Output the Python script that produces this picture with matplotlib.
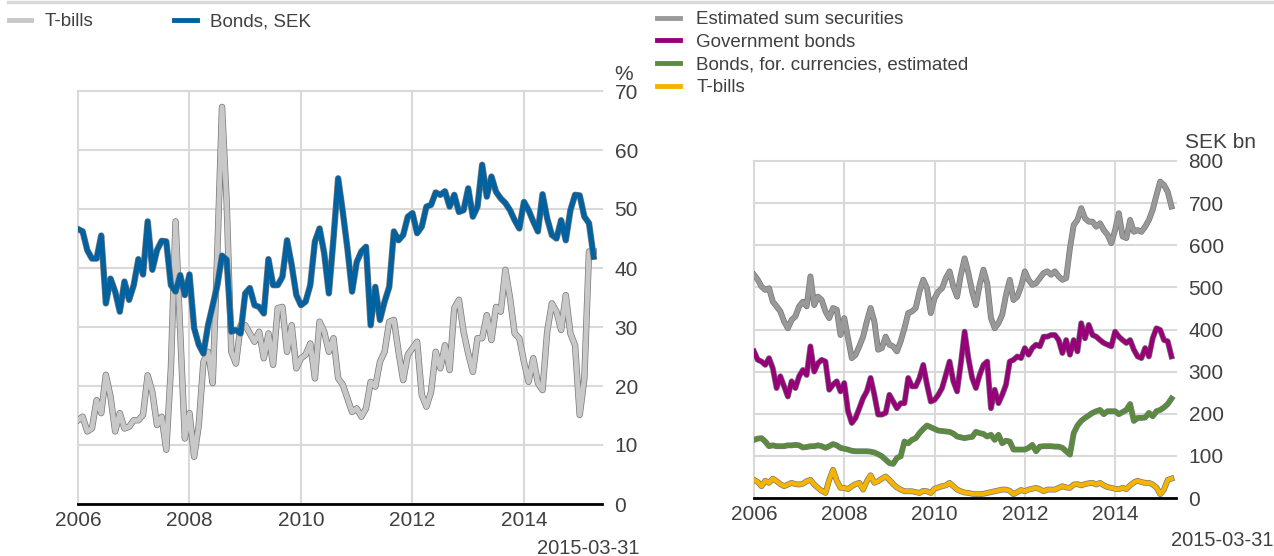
import matplotlib
matplotlib.use("Agg")
import matplotlib.pyplot as plt
import matplotlib.patheffects as pe
from matplotlib.lines import Line2D
import numpy as np

plt.rcParams['font.family'] = ['Liberation Sans', 'DejaVu Sans']

# month ends, Dec 2005 .. Mar 2015 (as decimal years)
months = 2006 + np.arange(112) / 12.0

# left chart, per cent
tbills_pct = [
    14.2, 14.8, 12.3, 12.8, 17.6, 15.4, 21.9, 18.2, 12.3, 15.4, 12.8, 13.1,
    14.2, 14.2, 15.1, 21.8, 19.0, 13.4, 14.8, 9.2, 23.0, 47.9, 29.2, 11.1,
    15.4, 8.0, 13.4, 24.1, 25.8, 20.5, 42.8, 67.3, 51.2, 25.8, 23.8, 30.3,
    30.3, 28.9, 27.5, 29.2, 24.7, 28.9, 23.6, 33.2, 33.4, 25.8, 30.3, 23.0,
    24.7, 25.3, 27.2, 21.3, 30.9, 29.2, 25.8, 28.1, 21.3, 20.2, 17.9, 15.6,
    16.2, 14.8, 16.2, 20.7, 19.9, 24.1, 25.8, 30.9, 31.2, 25.8, 21.0, 25.3,
    26.4, 27.5, 18.5, 16.5, 19.0, 25.8, 23.0, 26.9, 22.7, 33.2, 34.6, 29.2,
    25.5, 22.4, 28.1, 28.1, 32.0, 27.8, 33.4, 32.6, 39.7, 34.9, 28.9, 28.1,
    24.1, 20.7, 24.7, 20.5, 19.3, 29.2, 34.0, 32.6, 29.5, 35.4, 28.9, 26.9,
    15.1, 21.3, 42.8, 42.8]
bonds_sek = [
    46.6, 46.2, 43.0, 41.6, 41.6, 45.5, 34.0, 38.2, 36.0, 32.6, 37.7, 34.6,
    37.1, 41.5, 38.9, 47.9, 39.7, 43.0, 44.6, 44.5, 37.1, 36.0, 38.8, 35.4,
    38.9, 29.8, 27.0, 25.5, 30.3, 33.7, 37.1, 42.1, 41.4, 29.2, 29.5, 28.9,
    35.7, 36.6, 33.7, 33.4, 32.3, 41.5, 37.1, 37.1, 38.5, 44.7, 40.5, 35.4,
    33.7, 34.3, 37.1, 44.5, 46.7, 42.5, 35.7, 45.0, 55.2, 49.5, 43.3, 36.0,
    41.0, 42.8, 43.6, 30.3, 36.8, 31.2, 34.3, 36.8, 46.2, 44.7, 45.6, 48.7,
    49.3, 45.9, 47.0, 50.4, 50.7, 52.8, 52.4, 53.0, 50.4, 52.4, 49.5, 49.8,
    53.5, 48.7, 50.4, 57.5, 52.1, 55.5, 52.9, 51.8, 51.0, 49.8, 48.1, 46.7,
    51.2, 49.8, 47.9, 46.2, 52.5, 48.4, 45.6, 45.0, 48.1, 44.7, 49.8, 52.4,
    52.3, 48.7, 47.6, 41.9]

# right chart, SEK bn
est_sum = [
    530, 518, 502, 494, 498, 466, 455, 443, 419, 403, 423, 431,
    455, 466, 455, 526, 458, 478, 470, 443, 427, 451, 447, 387,
    427, 379, 332, 340, 360, 383, 419, 451, 419, 352, 356, 383,
    364, 360, 348, 372, 403, 439, 443, 451, 490, 518, 498, 439,
    474, 490, 498, 522, 538, 502, 478, 530, 569, 534, 490, 458,
    506, 542, 510, 427, 403, 415, 435, 482, 518, 470, 478, 502,
    538, 518, 506, 510, 522, 534, 538, 530, 538, 526, 518, 522,
    593, 648, 660, 688, 664, 656, 656, 644, 652, 636, 625, 605,
    636, 676, 621, 617, 660, 632, 636, 632, 644, 660, 684, 719,
    751, 743, 727, 692]
gov_bonds = [
    348, 328, 324, 316, 332, 308, 261, 289, 265, 241, 277, 261,
    289, 304, 292, 360, 300, 320, 328, 324, 257, 269, 277, 253,
    273, 206, 178, 190, 213, 237, 253, 285, 245, 198, 198, 202,
    245, 229, 213, 225, 225, 285, 265, 265, 285, 316, 269, 229,
    233, 245, 261, 292, 324, 277, 253, 320, 395, 332, 285, 261,
    292, 316, 324, 213, 257, 225, 245, 269, 324, 328, 336, 332,
    356, 340, 356, 364, 360, 383, 383, 387, 387, 375, 344, 375,
    340, 375, 348, 415, 379, 411, 387, 383, 375, 368, 364, 360,
    395, 383, 375, 368, 375, 352, 336, 332, 356, 336, 379, 403,
    399, 375, 372, 336]
fx_bonds = [
    138, 141, 142, 134, 123, 125, 123, 123, 123, 125, 125, 126,
    125, 120, 121, 123, 123, 125, 123, 119, 123, 128, 125, 119,
    117, 115, 112, 111, 111, 111, 111, 110, 108, 104, 99, 91,
    83, 81, 95, 99, 134, 130, 138, 142, 154, 164, 172, 168,
    164, 160, 159, 158, 157, 153, 146, 144, 142, 144, 145, 157,
    154, 152, 146, 150, 138, 150, 130, 136, 134, 115, 115, 115,
    115, 119, 126, 111, 122, 123, 123, 123, 122, 122, 119, 111,
    103, 154, 172, 183, 190, 196, 202, 206, 209, 199, 206, 206,
    206, 199, 204, 209, 223, 183, 190, 190, 191, 202, 194, 206,
    209, 215, 223, 236]
tbills_bn = [
    43, 38, 28, 41, 36, 46, 40, 33, 28, 32, 36, 33,
    32, 34, 40, 43, 32, 24, 17, 12, 43, 67, 41, 24,
    24, 21, 28, 33, 36, 20, 40, 54, 36, 40, 46, 51,
    43, 33, 25, 20, 16, 16, 16, 14, 12, 17, 16, 12,
    22, 25, 28, 30, 36, 28, 20, 16, 13, 12, 10, 9,
    9, 10, 12, 14, 16, 18, 20, 20, 17, 9, 14, 19,
    16, 20, 22, 24, 21, 16, 20, 20, 20, 24, 28, 25,
    24, 32, 33, 30, 33, 35, 36, 32, 36, 30, 26, 24,
    22, 21, 24, 21, 30, 37, 41, 38, 36, 36, 32, 25,
    9, 20, 43, 46]

W, H = 1274, 556
txt = '#404040'
grid_c = '#D9D9D9'


def edge(lw):
    return [pe.Stroke(linewidth=lw + 1.0, foreground='#777777'), pe.Normal()]


def style(ax, ylim, ystep, xmax):
    ax.set_xlim(2006, xmax)
    ax.set_ylim(*ylim)
    ax.set_xticks([2006, 2008, 2010, 2012, 2014])
    ax.set_yticks(np.arange(ylim[0], ylim[1] + 1, ystep))
    ax.yaxis.tick_right()
    ax.tick_params(length=0, labelsize=15, colors=txt)
    ax.tick_params(axis='y', pad=9)
    ax.tick_params(axis='x', pad=5)
    ax.grid(True, color=grid_c, lw=1.5)
    ax.set_axisbelow(True)
    for s in ['top', 'right', 'left']:
        ax.spines[s].set_visible(False)
    ax.spines['bottom'].set_color('black')
    ax.spines['bottom'].set_linewidth(2)
    for gl in ax.get_xgridlines() + ax.get_ygridlines():
        gl.set_clip_on(False)


fig = plt.figure(figsize=(W / 100, H / 100), dpi=100)

ax1 = fig.add_axes([78 / W, 1 - 504 / H, (602 - 78) / W, (504 - 91) / H])
style(ax1, (0, 70), 10, 2015.4)
ax1.plot(months, tbills_pct, color='#C8C8C8', lw=3.6, path_effects=edge(3.6))
ax1.plot(months, bonds_sek, color='#0062A0', lw=3.6, path_effects=edge(3.6))

ax2 = fig.add_axes([754 / W, 1 - 498 / H, (1176 - 754) / W, (498 - 161) / H])
style(ax2, (0, 800), 100, 2015.35)
ax2.plot(months, est_sum, color='#999999', lw=3.2, path_effects=edge(3.2))
ax2.plot(months, gov_bonds, color='#98007A', lw=3.2, path_effects=edge(3.2))
ax2.plot(months, fx_bonds, color='#5B8C3E', lw=3.2, path_effects=edge(3.2))
ax2.plot(months, tbills_bn, color='#F5B400', lw=3.2, path_effects=edge(3.2))

# legends
h1 = [Line2D([], [], color='#C8C8C8', lw=3.5), Line2D([], [], color='#0062A0', lw=3.5)]
fig.legend(h1, ['T-bills', 'Bonds, SEK'], loc='upper left', bbox_to_anchor=(9 / W, 1 - 13 / H),
           ncol=2, frameon=False, fontsize=13.5, labelcolor=txt, handlelength=1.2,
           handletextpad=0.7, columnspacing=4.3, borderpad=0, borderaxespad=0)
h2 = [Line2D([], [], color=c, lw=3.5) for c in ['#999999', '#98007A', '#5B8C3E', '#F5B400']]
fig.legend(h2, ['Estimated sum securities', 'Government bonds',
                'Bonds, for. currencies, estimated', 'T-bills'],
           loc='upper left', bbox_to_anchor=(657 / W, 1 - 11 / H), ncol=1, frameon=False,
           fontsize=13.5, labelcolor=txt, handlelength=1.2, handletextpad=0.9,
           labelspacing=0.3, borderpad=0, borderaxespad=0)

fig.add_artist(Line2D([8 / W, 1], [1 - 1.5 / H, 1 - 1.5 / H], color=grid_c, lw=2.5,
                      transform=fig.transFigure))

fig.text(624 / W, 1 - 74 / H, '%', ha='center', va='center', fontsize=15, color=txt)
fig.text(1185 / W, 1 - 143 / H, 'SEK bn', ha='left', va='center', fontsize=15, color=txt)
fig.text(640 / W, 1 - 548 / H, '2015-03-31', ha='right', va='center', fontsize=14.5, color=txt)
fig.text(1273 / W, 1 - 541 / H, '2015-03-31', ha='right', va='center', fontsize=14.5, color=txt)

fig.savefig('out.png', dpi=100)
